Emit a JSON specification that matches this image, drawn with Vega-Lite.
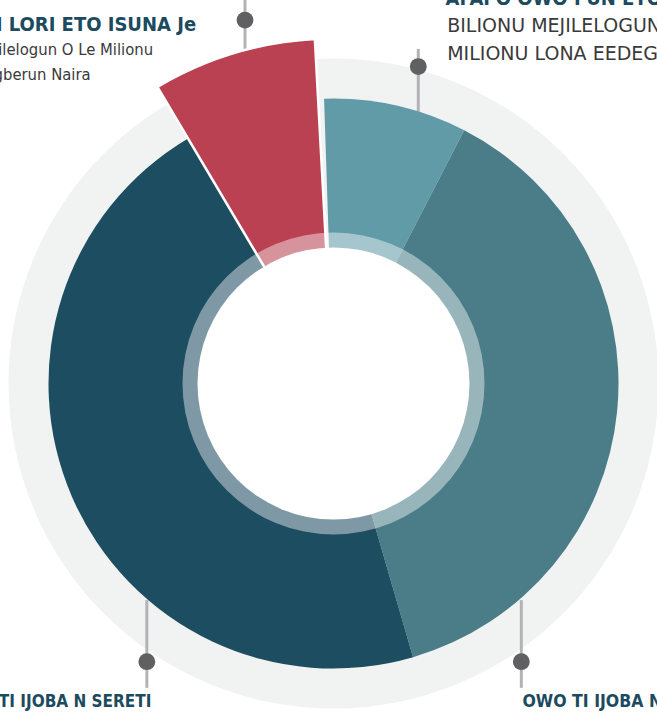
{
  "$schema": "https://vega.github.io/schema/vega-lite/v6.json",
  "width": 667,
  "height": 767,
  "autosize": {"type": "none"},
  "padding": 0,
  "background": "white",
  "config": {"view": {"stroke": null}},
  "datasets": {
    "budget": [
      {"k": 1, "cat": "Afafo owo fun eto isuna", "share": 8.14},
      {"k": 2, "cat": "Owo ti ijoba na", "share": 38.04},
      {"k": 3, "cat": "Owo ti ijoba n sereti", "share": 46.13},
      {"k": 4, "cat": "Gbese lori eto isuna", "share": 7.69}
    ],
    "callouts": [
      {"cat": "Gbese lori eto isuna", "x": -31.05, "top": 137, "bottom": 117.4, "dot": 127.5},
      {"cat": "Afafo owo fun eto isuna", "x": 29.75, "top": 117.4, "bottom": 95.3, "dot": 111.2},
      {"cat": "Owo ti ijoba n sereti", "x": -65.5, "top": -76, "bottom": -106.8, "dot": -97.6},
      {"cat": "Owo ti ijoba na", "x": 65.9, "top": -76, "bottom": -106.8, "dot": -97.6}
    ],
    "topLeftTitle": [
      {"t": "GBESE TI A SAN LORI ETO ISUNA Je", "x": -48.2, "y": 123.7}
    ],
    "topRightTitle": [
      {"t": "AFAFO OWO FUN ETO ISUNA", "x": 39.3, "y": 132.8}
    ],
    "bottomLeftTitle": [
      {"t": "OWO TI IJOBA N SERETI", "x": -63.9, "y": -113.5}
    ],
    "bottomRightTitle": [
      {"t": "OWO TI IJOBA NA", "x": 66.3, "y": -113.5}
    ],
    "leftSubs": [
      {"t": "Bilionu Mejilelogun O Le Milionu", "x": -63.3, "y": 115.3},
      {"t": "Egberun Naira", "x": -85.2, "y": 106.5}
    ],
    "rightSubs": [
      {"t": "BILIONU MEJILELOGUN", "x": 39.9, "y": 123.4},
      {"t": "MILIONU LONA EEDEGBETA", "x": 39.9, "y": 113.5}
    ]
  },
  "layer": [
    {
      "data": {"values": [{"part": "disc"}]},
      "mark": {"type": "arc", "theta": 0, "theta2": 6.2832, "outerRadius": 325, "fill": "#f1f2f2"},
      "encoding": {}
    },
    {
      "data": {"name": "callouts"},
      "mark": {"type": "rule", "color": "#b3b3b6", "strokeWidth": 3},
      "encoding": {
        "x": {"field": "x", "type": "quantitative", "scale": {"domain": [-117.02, 117.02], "nice": false, "zero": false}, "axis": null},
        "y": {"field": "top", "type": "quantitative", "scale": {"domain": [-134.56, 134.56], "nice": false, "zero": false}, "axis": null},
        "y2": {"field": "bottom"}
      }
    },
    {
      "data": {"name": "budget"},
      "mark": {"type": "arc", "outerRadius": 285},
      "encoding": {
        "theta": {"field": "share", "type": "quantitative", "stack": true, "scale": {"domain": [0, 100], "range": [-0.03316, 6.22908]}},
        "order": {"field": "k", "type": "quantitative"},
        "color": {"field": "cat", "type": "nominal", "legend": null,
          "scale": {"domain": ["Afafo owo fun eto isuna", "Owo ti ijoba na", "Owo ti ijoba n sereti", "Gbese lori eto isuna"],
                    "range": ["#629ba8", "#4a7d88", "#1d4d61", "#b94151"]}}
      }
    },
    {
      "data": {"name": "budget"},
      "mark": {"type": "arc", "outerRadius": 345, "stroke": "white", "strokeWidth": 2.5},
      "encoding": {
        "theta": {"field": "share", "type": "quantitative", "stack": true, "scale": {"domain": [0, 100], "range": [-0.03316, 6.22908]}},
        "order": {"field": "k", "type": "quantitative"},
        "color": {"field": "cat", "type": "nominal", "legend": null},
        "opacity": {"condition": {"test": "datum.k == 4", "value": 1}, "value": 0}
      }
    },
    {
      "data": {"values": [{"part": "ring"}]},
      "mark": {"type": "arc", "theta": 0, "theta2": 6.2832, "innerRadius": 135.5, "outerRadius": 151, "fill": "white", "fillOpacity": 0.43},
      "encoding": {}
    },
    {
      "data": {"values": [{"part": "hole"}]},
      "mark": {"type": "arc", "theta": 0, "theta2": 6.2832, "outerRadius": 136, "fill": "white"},
      "encoding": {}
    },
    {
      "data": {"name": "callouts"},
      "mark": {"type": "point", "filled": true, "size": 285, "color": "#606062", "opacity": 1},
      "encoding": {
        "x": {"field": "x", "type": "quantitative", "scale": {"domain": [-117.02, 117.02], "nice": false, "zero": false}, "axis": null},
        "y": {"field": "dot", "type": "quantitative", "scale": {"domain": [-134.56, 134.56], "nice": false, "zero": false}, "axis": null}
      }
    },
    {
      "data": {"name": "topLeftTitle"},
      "mark": {"type": "text", "align": "right", "baseline": "alphabetic", "font": "DejaVu Sans Condensed, DejaVu Sans", "fontWeight": "bold", "fontSize": 20, "color": "#1c4a5e"},
      "encoding": {
        "x": {"field": "x", "type": "quantitative", "scale": {"domain": [-117.02, 117.02], "nice": false, "zero": false}, "axis": null},
        "y": {"field": "y", "type": "quantitative", "scale": {"domain": [-134.56, 134.56], "nice": false, "zero": false}, "axis": null},
        "text": {"field": "t"}
      }
    },
    {
      "data": {"name": "bottomLeftTitle"},
      "mark": {"type": "text", "align": "right", "baseline": "alphabetic", "font": "DejaVu Sans Condensed, DejaVu Sans", "fontWeight": "bold", "fontSize": 17, "color": "#1c4a5e"},
      "encoding": {
        "x": {"field": "x", "type": "quantitative", "scale": {"domain": [-117.02, 117.02], "nice": false, "zero": false}, "axis": null},
        "y": {"field": "y", "type": "quantitative", "scale": {"domain": [-134.56, 134.56], "nice": false, "zero": false}, "axis": null},
        "text": {"field": "t"}
      }
    },
    {
      "data": {"name": "leftSubs"},
      "mark": {"type": "text", "align": "right", "baseline": "alphabetic", "font": "DejaVu Sans Condensed, DejaVu Sans", "fontSize": 16.5, "color": "#3a3a3a"},
      "encoding": {
        "x": {"field": "x", "type": "quantitative", "scale": {"domain": [-117.02, 117.02], "nice": false, "zero": false}, "axis": null},
        "y": {"field": "y", "type": "quantitative", "scale": {"domain": [-134.56, 134.56], "nice": false, "zero": false}, "axis": null},
        "text": {"field": "t"}
      }
    },
    {
      "data": {"name": "topRightTitle"},
      "mark": {"type": "text", "align": "left", "baseline": "alphabetic", "font": "DejaVu Sans Condensed, DejaVu Sans", "fontWeight": "bold", "fontSize": 20, "color": "#1c4a5e"},
      "encoding": {
        "x": {"field": "x", "type": "quantitative", "scale": {"domain": [-117.02, 117.02], "nice": false, "zero": false}, "axis": null},
        "y": {"field": "y", "type": "quantitative", "scale": {"domain": [-134.56, 134.56], "nice": false, "zero": false}, "axis": null},
        "text": {"field": "t"}
      }
    },
    {
      "data": {"name": "bottomRightTitle"},
      "mark": {"type": "text", "align": "left", "baseline": "alphabetic", "font": "DejaVu Sans Condensed, DejaVu Sans", "fontWeight": "bold", "fontSize": 17.5, "color": "#1c4a5e"},
      "encoding": {
        "x": {"field": "x", "type": "quantitative", "scale": {"domain": [-117.02, 117.02], "nice": false, "zero": false}, "axis": null},
        "y": {"field": "y", "type": "quantitative", "scale": {"domain": [-134.56, 134.56], "nice": false, "zero": false}, "axis": null},
        "text": {"field": "t"}
      }
    },
    {
      "data": {"name": "rightSubs"},
      "mark": {"type": "text", "align": "left", "baseline": "alphabetic", "font": "DejaVu Sans", "fontSize": 19, "color": "#3a3a3a"},
      "encoding": {
        "x": {"field": "x", "type": "quantitative", "scale": {"domain": [-117.02, 117.02], "nice": false, "zero": false}, "axis": null},
        "y": {"field": "y", "type": "quantitative", "scale": {"domain": [-134.56, 134.56], "nice": false, "zero": false}, "axis": null},
        "text": {"field": "t"}
      }
    }
  ]
}
